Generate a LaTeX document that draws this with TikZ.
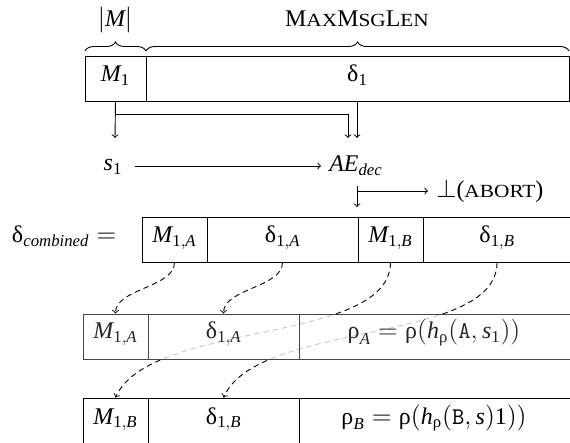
\documentclass[tikz,border=0pt]{standalone}
\usepackage{mathspec}
\setmainfont{Liberation Serif}
\newfontfamily\scfont[FakeStretch=1.15]{Liberation Serif}
\setmathsfont(Digits,Latin)[Uppercase=Italic,Lowercase=Italic]{Liberation Serif}
\setmathsfont(Greek)[Uppercase=Regular,Lowercase=Regular]{Liberation Serif}
\setmathrm{Liberation Serif}
\usetikzlibrary{fit,decorations.pathreplacing}
\newcommand\smc[1]{{\scfont\fontsize{10.3}{12}\selectfont #1}}
\newcommand\ttA[1]{\hbox{\ttfamily #1}}
\begin{document}
\begin{tikzpicture}[x=0.5556pt,y=-0.5556pt,font=\fontsize{13.3}{16}\selectfont,
  cellst/.style={draw, line width=0.5pt, inner sep=0pt},
  graycell/.style={cellst, draw=black!72, fill=white, fill opacity=0.78},
  txt/.style={anchor=base, inner sep=0pt},
  graytxt/.style={txt, text=black!85},
  conn/.style={->, line width=0.5pt},
  dconn/.style={->, dashed, line width=0.5pt, dash pattern=on 3pt off 2.2pt},
  bracest/.style={decorate, decoration={brace, amplitude=5pt}, line width=0.5pt}]
\useasboundingbox (0,0) rectangle (570,443);
\clip (0,0) rectangle (570,443);

% top bar
\node[cellst, fit={(85,56) (146,101)}] (m1) {};
\node[cellst, fit={(146,56) (569,101)}] (d1) {};
\node[txt] (tm1) at (115.5,82) {$M_1$};
\node[txt] (td1) at (357.5,82) {$\delta_1$};
\draw[bracest] (85,51) -- (146,51);
\draw[bracest] (146,51) -- (569,51);
\node[txt] (lm) at (115,27) {$|M|$};
\node[txt] (lmax) at (357,27) {M\smc{AX}M\smc{SG}L\smc{EN}};

% s1 and AE
\node[txt] (s1) at (113,171) {$s_1$};
\node[txt] (ae) at (356,172) {$AE_{dec}$};
\coordinate (s1in) at (115,138);
\coordinate (j1) at (115,114);
\coordinate (ae1) at (348,138);
\coordinate (ae2) at (357,138);
\coordinate (sa) at (135,166);
\coordinate (sb) at (321,166);
\draw[conn] (m1.south) -- (s1in);
\draw[line width=0.5pt, ->] (j1) -| (ae1);
\draw[conn] (m1.south -| ae2) -- (ae2);
\draw[conn] (sa) -- (sb);

% abort
\node[txt, anchor=base west] (ab) at (436,198) {$\perp$(\smc{ABORT})};
\coordinate (c0) at (357,191);
\coordinate (c0e) at (428,191);
\coordinate (c1) at (357,207);
\draw[line width=0.5pt, |->] (c0) -- (c0e);
\draw[conn] (c0) -- (c1);

% combined row
\node[txt] (dc) at (64,243) {$\delta_{combined} =$};
\node[cellst, fit={(142,217) (207,262)}] (cA1) {};
\node[cellst, fit={(207,217) (358,262)}] (cA2) {};
\node[cellst, fit={(358,217) (423,262)}] (cB1) {};
\node[cellst, fit={(423,217) (571,262)}] (cB2) {};
\node[txt] (tcA1) at (174.5,243) {$M_{1,A}$};
\node[txt] (tcA2) at (282.5,243) {$\delta_{1,A}$};
\node[txt] (tcB1) at (390.5,243) {$M_{1,B}$};
\node[txt] (tcB2) at (497,243) {$\delta_{1,B}$};

% row 3
\node[cellst, fit={(83,398) (148,444)}] (rB1) {};
\node[cellst, fit={(148,398) (299,444)}] (rB2) {};
\node[cellst, fit={(299,398) (571,444)}] (rB3) {};
\node[txt] (trB1) at (115.5,424) {$M_{1,B}$};
\node[txt] (trB2) at (223.5,424) {$\delta_{1,B}$};
\node[txt] (trB3) at (434,424) {$\rho_B = \rho(h_\rho(\ttA{B}, s)1))$};

% long dashed arrows (pass behind row 2)
\draw[dconn] (cB1.south) .. controls (390,345) and (150,320) .. (rB1.north);
\draw[dconn] (cB2.south) .. controls (497,345) and (258,320) .. (rB2.north);

% row 2
\node[graycell, fit={(83,314) (148,359)}] (rA1) {};
\node[graycell, fit={(148,314) (299,359)}] (rA2) {};
\node[graycell, fit={(299,314) (571,359)}] (rA3) {};
\node[graytxt] (trA1) at (115.5,339) {$M_{1,A}$};
\node[graytxt] (trA2) at (223.5,339) {$\delta_{1,A}$};
\node[graytxt] (trA3) at (434,339) {$\rho_A = \rho(h_\rho(\ttA{A}, s_1))$};

% short dashed arrows
\draw[dconn] (cA1.south) .. controls +(0,25) and +(0,-25) .. (rA1.north);
\draw[dconn] (cA2.south) .. controls +(0,25) and +(0,-25) .. (rA2.north);
\end{tikzpicture}
\end{document}
